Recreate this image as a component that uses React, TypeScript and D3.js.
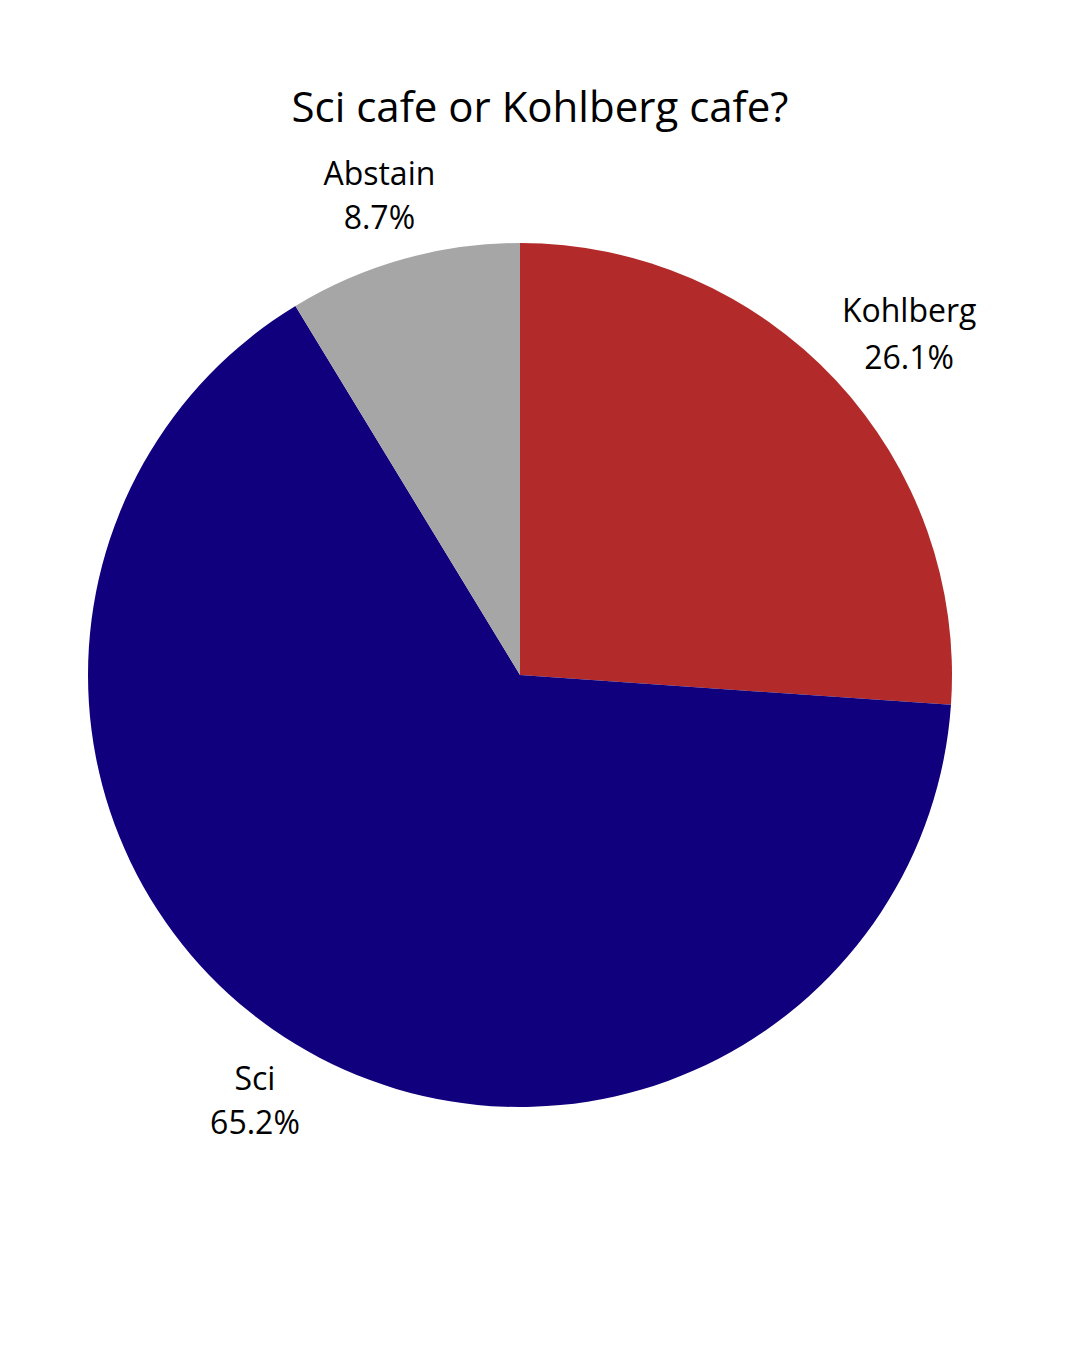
import React from "react";
import * as d3 from "d3";

const categories = ["Kohlberg", "Sci", "Abstain"];
const values = [26.1, 65.2, 8.7];
const colors = ["#B32A2A", "#10007D", "#A6A6A6"];
const title = "Sci cafe or Kohlberg cafe?";

const W = 1080;
const H = 1350;
const FONT = "'Open Sans', 'Noto Sans', sans-serif";

function measure(text: string, size: number) {
  const c = document.createElement("canvas").getContext("2d");
  if (!c) return text.length * size * 0.55;
  c.font = `${size}px 'Open Sans'`;
  return c.measureText(text).width;
}

export default function App() {
  const cx = 520, cy = 675, r = 432;
  const labelR = 465;
  const fs = 32;
  const pie = d3.pie<number>().sort(null).value((d) => d);
  const arcs = pie(values);
  const arc = d3.arc<d3.PieArcDatum<number>>().innerRadius(0).outerRadius(r);

  return (
    <svg width={W} height={H} style={{ display: "block", margin: "-8px", background: "#fff" }}>
      <rect width={W} height={H} fill="#fff" />
      <text x={540} y={122} textAnchor="middle" fontFamily={FONT} fontSize={42} fill="#000">
        {title}
      </text>
      <g transform={`translate(${cx},${cy})`}>
        {arcs.map((a, i) => (
          <path key={i} d={arc(a) || ""} fill={colors[i]} />
        ))}
      </g>
      {arcs.map((a, i) => {
        const mid = (a.startAngle + a.endAngle) / 2;
        const s = Math.sin(mid), c = Math.cos(mid);
        const px = cx + labelR * s;
        const py = cy - labelR * c;
        const l1 = categories[i];
        const l2 = `${values[i].toFixed(1)}%`;
        const w = Math.max(measure(l1, fs), measure(l2, fs));
        const gap = /[gjpqy]/.test(l1) ? 47 : 44;
        const capH = fs * 0.72;
        const blockH = capH + gap;
        const centerX = px + (s * w) / 2;
        const centerY = py - (c * blockH) / 2;
        const b1 = centerY - blockH / 2 + capH;
        return (
          <text key={i} fontFamily={FONT} fontSize={fs} fill="#000" textAnchor="middle">
            <tspan x={centerX} y={b1}>{l1}</tspan>
            <tspan x={centerX} y={b1 + gap}>{l2}</tspan>
          </text>
        );
      })}
    </svg>
  );
}
